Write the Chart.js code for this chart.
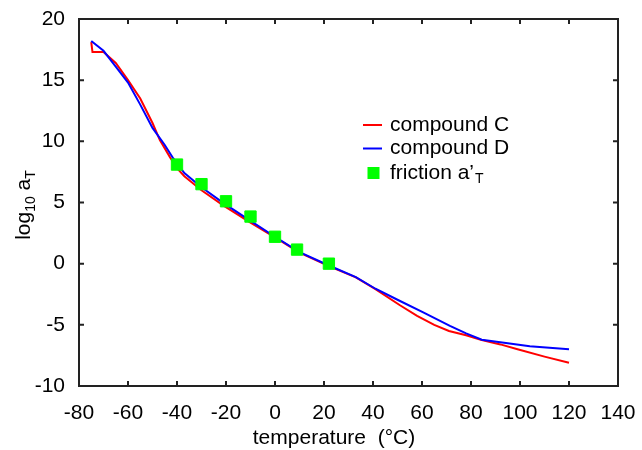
<!DOCTYPE html>
<html>
<head>
<meta charset="utf-8">
<script src="https://cdn.jsdelivr.net/npm/chart.js@4.4.1/dist/chart.umd.min.js"></script>
<style>
  body { margin: 0; background: #fff; }
  #wrap { width: 642px; height: 450px; }
</style>
</head>
<body>
<div id="wrap"><canvas id="shiftChart"></canvas></div>
<script>
// compound C (red)
const tempC = [-75, -74.5, -70, -65, -60, -55, -50, -47, -43, -40, -37, -30, -21, -10, 0, 10, 22, 33, 41, 51, 58, 65, 71, 78, 84, 92, 99, 110, 120];
const logC  = [18.1, 17.3, 17.3, 16.4, 15.0, 13.5, 11.5, 10.1, 8.75, 7.8, 7.15, 6.0, 4.75, 3.35, 2.15, 0.9, -0.2, -1.12, -2.08, -3.4, -4.26, -5.0, -5.5, -5.85, -6.22, -6.6, -7.0, -7.6, -8.1];

// compound D (blue)
const tempD = [-75, -70, -65, -60, -55, -50, -45, -41.5, -37, -30, -21, -10, 0, 10, 22, 33, 41, 50, 60.5, 71.4, 78, 84.4, 95, 104, 112, 120];
const logD  = [18.2, 17.4, 16.1, 14.8, 13.0, 11.1, 9.7, 8.6, 7.4, 6.25, 4.95, 3.5, 2.2, 0.95, -0.15, -1.1, -2.05, -2.95, -3.98, -5.08, -5.7, -6.22, -6.5, -6.75, -6.88, -7.0];

// friction shift factors (green squares)
const tempFriction = [-40, -30, -20, -10, 0, 9, 22];
const logFriction  = [8.1, 6.5, 5.1, 3.85, 2.2, 1.15, 0.0];

const xTicks = [-80, -60, -40, -20, 0, 20, 40, 60, 80, 100, 120, 140];
const yTicks = [-10, -5, 0, 5, 10, 15, 20];

const seriesNames = ["compound C", "compound D", "friction a\u2019"];
const FONT = "'Liberation Sans', Arial, Helvetica, sans-serif";

function toPoints(xs, ys) {
  return xs.map((x, i) => ({ x: x, y: ys[i] }));
}

// box with inward ticks on all four sides
const framePlugin = {
  id: "frame",
  afterDraw(chart) {
    const { ctx, chartArea: a, scales } = chart;
    ctx.save();
    ctx.strokeStyle = "#222";
    ctx.lineWidth = 2;
    ctx.strokeRect(a.left, a.top, a.right - a.left, a.bottom - a.top);
    ctx.beginPath();
    xTicks.forEach(v => {
      const px = scales.x.getPixelForValue(v);
      ctx.moveTo(px, a.bottom); ctx.lineTo(px, a.bottom - 5);
      ctx.moveTo(px, a.top); ctx.lineTo(px, a.top + 5);
    });
    yTicks.forEach(v => {
      const py = scales.y.getPixelForValue(v);
      ctx.moveTo(a.left, py); ctx.lineTo(a.left + 5, py);
      ctx.moveTo(a.right, py); ctx.lineTo(a.right - 5, py);
    });
    ctx.stroke();
    ctx.restore();
  }
};

// axis titles (with subscripts) and the legend inside the plot
const labelsPlugin = {
  id: "labels",
  afterDraw(chart) {
    const { ctx } = chart;
    ctx.save();
    ctx.fillStyle = "#000";
    ctx.textBaseline = "alphabetic";

    // x title
    ctx.font = "21px " + FONT;
    ctx.textAlign = "center";
    ctx.fillText("temperature  (\u00B0C)", 334, 444);

    // y title, rotated, log10 aT
    const big = "21px " + FONT, small = "14px " + FONT;
    const parts = [["log", big, 0], ["10", small, 5], [" a", big, 0], ["T", small, 5]];
    ctx.textAlign = "left";
    let total = 0;
    parts.forEach(p => { ctx.font = p[1]; total += ctx.measureText(p[0]).width; });
    ctx.translate(30, 205);
    ctx.rotate(-Math.PI / 2);
    let x = -total / 2;
    parts.forEach(p => {
      ctx.font = p[1];
      ctx.fillText(p[0], x, p[2]);
      x += ctx.measureText(p[0]).width;
    });
    ctx.setTransform(1, 0, 0, 1, 0, 0);

    // legend
    const colors = ["#ff0000", "#0000ff"];
    const rows = [125, 148.5, 173];
    ctx.lineWidth = 2;
    for (let i = 0; i < 2; i++) {
      ctx.strokeStyle = colors[i];
      ctx.beginPath();
      ctx.moveTo(363, rows[i]); ctx.lineTo(382, rows[i]);
      ctx.stroke();
    }
    ctx.fillStyle = "#00ff00";
    ctx.fillRect(367.5, rows[2] - 6, 12, 12);

    ctx.fillStyle = "#000";
    ctx.textBaseline = "middle";
    ctx.font = "21px " + FONT;
    ctx.fillText(seriesNames[0], 390, rows[0]);
    ctx.fillText(seriesNames[1], 390, rows[1]);
    ctx.fillText(seriesNames[2], 390, rows[2]);
    const w = ctx.measureText(seriesNames[2]).width;
    ctx.font = "14px " + FONT;
    ctx.fillText("T", 390 + w + 1, rows[2] + 6);
    ctx.restore();
  }
};

const ctx = document.getElementById("shiftChart").getContext("2d");

new Chart(ctx, {
  type: "scatter",
  data: {
    datasets: [
      {
        label: seriesNames[0],
        data: toPoints(tempC, logC),
        showLine: true,
        borderColor: "#ff0000",
        borderWidth: 2,
        pointRadius: 0,
        tension: 0,
        order: 3
      },
      {
        label: seriesNames[1],
        data: toPoints(tempD, logD),
        showLine: true,
        borderColor: "#0000ff",
        borderWidth: 2,
        pointRadius: 0,
        tension: 0,
        order: 2
      },
      {
        label: seriesNames[2],
        data: toPoints(tempFriction, logFriction),
        showLine: false,
        pointStyle: "rect",
        pointRadius: 8,
        pointBackgroundColor: "#00ff00",
        pointBorderColor: "#00ff00",
        pointBorderWidth: 1,
        order: 1
      }
    ]
  },
  options: {
    responsive: true,
    maintainAspectRatio: false,
    animation: false,
    layout: { padding: { left: 0, right: 24, top: 19, bottom: 0 } },
    plugins: {
      legend: { display: false },
      tooltip: { enabled: false }
    },
    scales: {
      x: {
        type: "linear",
        min: -80,
        max: 140,
        afterBuildTicks: s => { s.ticks = xTicks.map(v => ({ value: v })); },
        afterFit: s => { s.height = 64; s.paddingLeft = 0; s.paddingRight = 0; },
        grid: { display: false, drawTicks: false },
        border: { display: false },
        ticks: { color: "#000", padding: 15, maxRotation: 0, font: { size: 21, family: FONT } }
      },
      y: {
        type: "linear",
        min: -10,
        max: 20,
        afterBuildTicks: s => { s.ticks = yTicks.map(v => ({ value: v })); },
        afterFit: s => { s.width = 79; s.paddingTop = 0; s.paddingBottom = 0; },
        grid: { display: false, drawTicks: false },
        border: { display: false },
        ticks: { color: "#000", padding: 14, font: { size: 21, family: FONT } }
      }
    }
  },
  plugins: [framePlugin, labelsPlugin]
});
</script>
</body>
</html>
